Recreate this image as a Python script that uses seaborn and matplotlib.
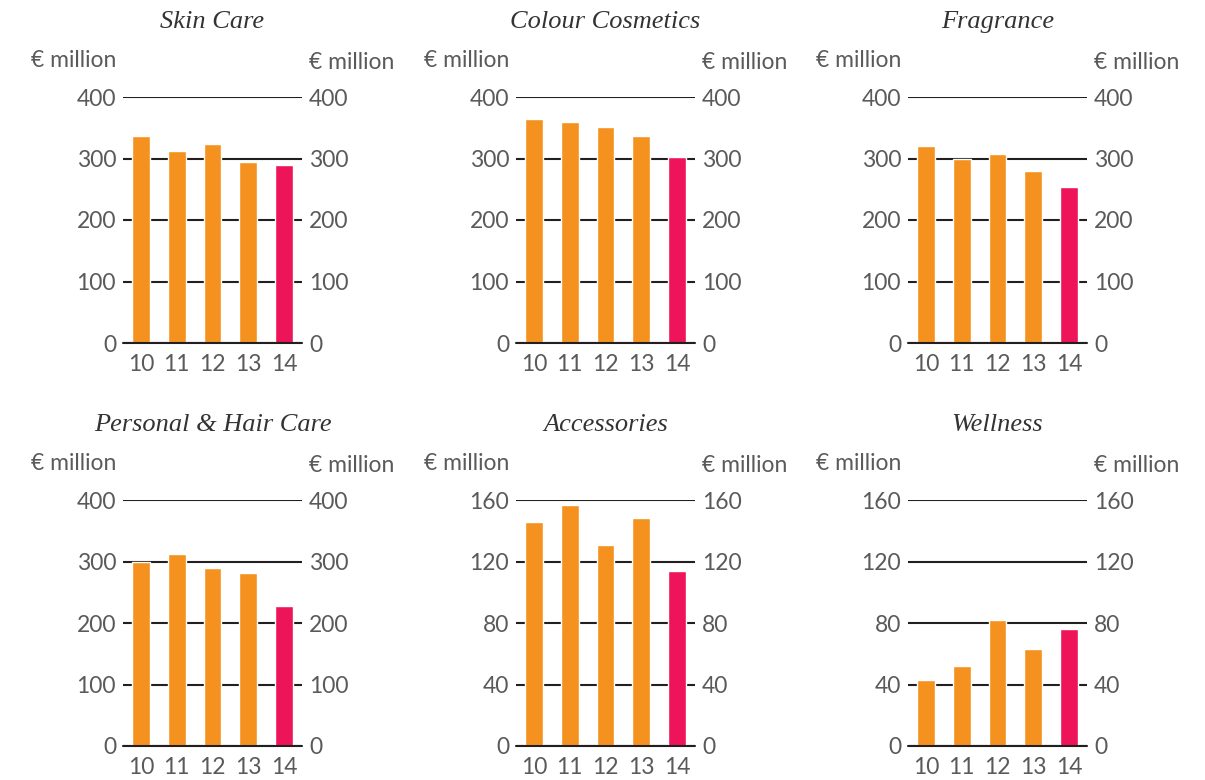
import matplotlib
matplotlib.use("Agg")
import matplotlib.pyplot as plt
import seaborn as sns
import pandas as pd

# Net sales by division, € million, fiscal years 2010-2014
years = ["10", "11", "12", "13", "14"]

skin_care = [336, 313, 324, 295, 290]
colour_cosmetics = [364, 359, 352, 337, 303]
fragrance = [321, 299, 308, 280, 253]
personal_hair_care = [300, 313, 290, 281, 227]
accessories = [146, 157, 131, 148, 114]
wellness = [43, 52, 82, 63, 76]

titles = ["Skin Care", "Colour Cosmetics", "Fragrance",
          "Personal & Hair Care", "Accessories", "Wellness"]
series = [skin_care, colour_cosmetics, fragrance,
          personal_hair_care, accessories, wellness]
ticks_400 = [0, 100, 200, 300, 400]
ticks_160 = [0, 40, 80, 120, 160]
tick_sets = [ticks_400, ticks_400, ticks_400, ticks_400, ticks_160, ticks_160]
unit_label = "€ million"

ORANGE = "#F5921F"
PINK = "#ED1459"
LINE = "#231F20"
TEXT = "#5A5A5A"

sns.set_theme(style="white")
plt.rcParams["font.family"] = ["Lato", "DejaVu Sans"]

W, H = 1205, 780
fig = plt.figure(figsize=(W / 100, H / 100), dpi=100)

col_left = [123, 516, 908]
row_top = [97, 500]
ax_w, ax_h = 179, 246

palette = [ORANGE] * (len(years) - 1) + [PINK]

for i, (title, vals, ticks) in enumerate(zip(titles, series, tick_sets)):
    r, c = divmod(i, 3)
    left = col_left[c] / W
    bottom = 1 - (row_top[r] + ax_h) / H
    ax = fig.add_axes([left, bottom, ax_w / W, ax_h / H])

    df = pd.DataFrame({"year": years, "value": vals})
    sns.barplot(data=df, x="year", y="value", hue="year", palette=palette,
                legend=False, width=0.5, saturation=1, ax=ax, zorder=3)

    ax.set_xlim(-0.5, len(years) - 0.5)
    ax.set_ylim(ticks[0], ticks[-1])
    ax.set_yticks(ticks)
    ax.set_xlabel("")
    ax.set_ylabel("")
    for s in ax.spines.values():
        s.set_visible(False)
    ax.grid(axis="y", color=LINE, linewidth=1.5, zorder=0)
    ax.grid(axis="x", visible=False)
    ax.set_axisbelow(True)
    # baseline drawn over the bar feet
    ax.axhline(ticks[0], color=LINE, linewidth=1.5, zorder=4, clip_on=False)
    ax.tick_params(axis="y", length=0, pad=5, labelsize=16.5,
                   labelcolor=TEXT, labelleft=True, labelright=True)
    ax.tick_params(axis="x", length=0, pad=8, labelsize=16.5, labelcolor=TEXT)

    ax.annotate(title, xy=(0.5, 1), xycoords="axes fraction",
                xytext=(0, 54), textcoords="offset points",
                ha="center", va="center", fontsize=19, style="italic",
                family="Liberation Serif", color="#333333")
    ax.annotate(unit_label, xy=(0, 1), xycoords="axes fraction",
                xytext=(-4.5, 26), textcoords="offset points",
                ha="right", va="center", fontsize=16.5, color=TEXT)
    ax.annotate(unit_label, xy=(1, 1), xycoords="axes fraction",
                xytext=(5, 25), textcoords="offset points",
                ha="left", va="center", fontsize=16.5, color=TEXT)

fig.savefig("out.png", dpi=100, facecolor="white")
